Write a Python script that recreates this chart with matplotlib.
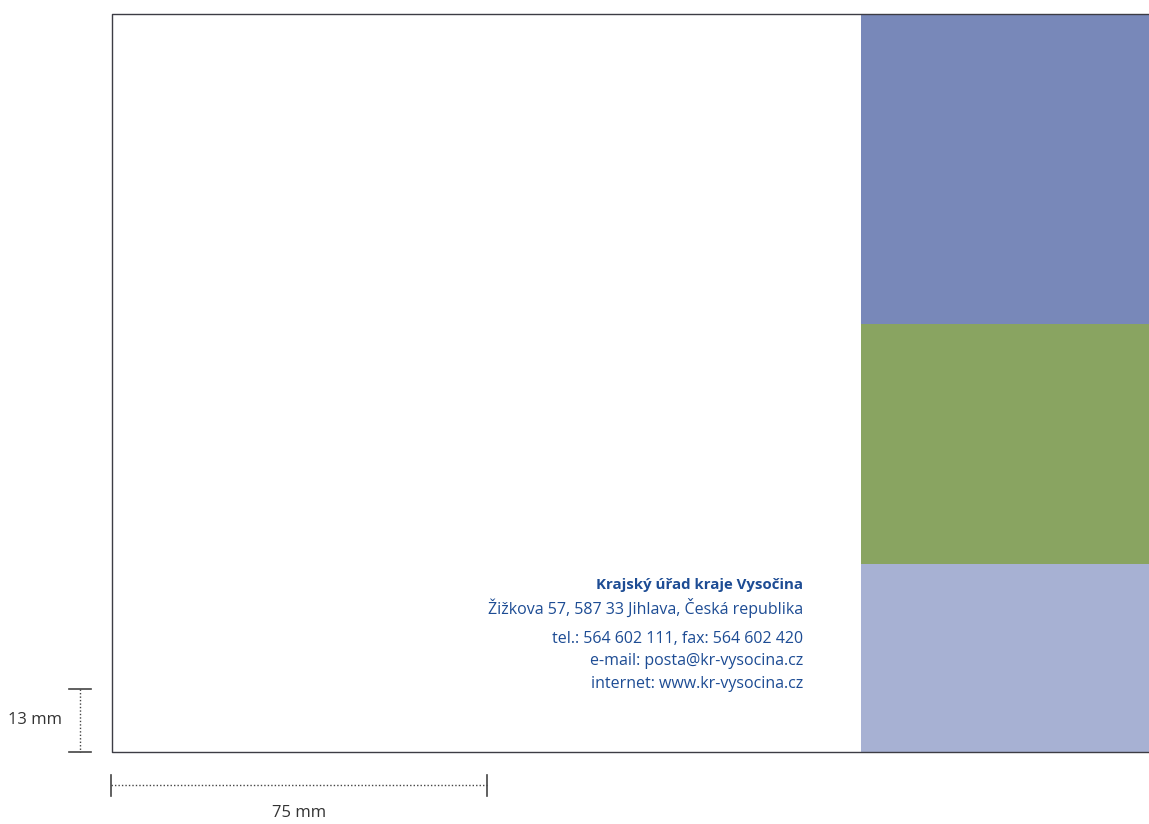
import matplotlib
matplotlib.use("Agg")
import matplotlib.pyplot as plt
from matplotlib.patches import Rectangle

# --- page / band data (pixel units of the 1149x824 layout) ---
page_box = [112, 14, 1160, 752]          # left, top, right, bottom
band_x = 861
band_edges = [14, 324, 564, 752]
band_colors = ["#7888b9", "#89a461", "#a7b1d3"]

address_lines = [
    "Krajský úřad kraje Vysočina",
    "Žižkova 57, 587 33 Jihlava, Česká republika",
    "tel.: 564 602 111, fax: 564 602 420",
    "e-mail: posta@kr-vysocina.cz",
    "internet: www.kr-vysocina.cz",
]
address_y = [585, 608, 639, 661, 684]
address_bold = [True, False, False, False, False]

dim_labels = ["13 mm", "75 mm"]
v_dim = [689, 752]      # vertical dimension span (y)
h_dim = [111, 487]      # horizontal dimension span (x)

text_blue = "#1d4c94"
dim_gray = "#444444"

fig = plt.figure(figsize=(11.49, 8.24), dpi=100)
ax = fig.add_axes([0, 0, 1, 1])
ax.set_xlim(0, 1149)
ax.set_ylim(824, 0)
ax.axis("off")

# colour bands on the right
for i, c in enumerate(band_colors):
    ax.add_patch(Rectangle((band_x, band_edges[i]), 1149 - band_x,
                           band_edges[i + 1] - band_edges[i],
                           facecolor=c, edgecolor="none"))

# page border
l, t, r, b = page_box
ax.plot([r, l, l, r], [t, t, b, b], color="#3c3c44", lw=1.0)

# address block
for txt, y, bold in zip(address_lines, address_y, address_bold):
    ax.text(803, y, txt, ha="right", va="center", color=text_blue,
            fontsize=10.8 if bold else 11.5, family="Open Sans",
            fontweight="bold" if bold else "normal")

# vertical dimension (13 mm)
ax.plot([80, 80], v_dim, color=dim_gray, lw=1, ls=(0, (1, 1.5)))
for y in v_dim:
    ax.plot([69, 91], [y, y], color=dim_gray, lw=1.2)
ax.text(62, (v_dim[0] + v_dim[1]) / 2, dim_labels[0], ha="right", va="center",
        color="#333333", fontsize=12, family="Open Sans")

# horizontal dimension (75 mm)
ax.plot(h_dim, [785, 785], color=dim_gray, lw=1, ls=(0, (1, 1.5)))
for x in h_dim:
    ax.plot([x, x], [775, 796], color=dim_gray, lw=1.2)
ax.text((h_dim[0] + h_dim[1]) / 2, 813, dim_labels[1], ha="center", va="center",
        color="#333333", fontsize=12, family="Open Sans")

fig.savefig("out.png", dpi=100)
